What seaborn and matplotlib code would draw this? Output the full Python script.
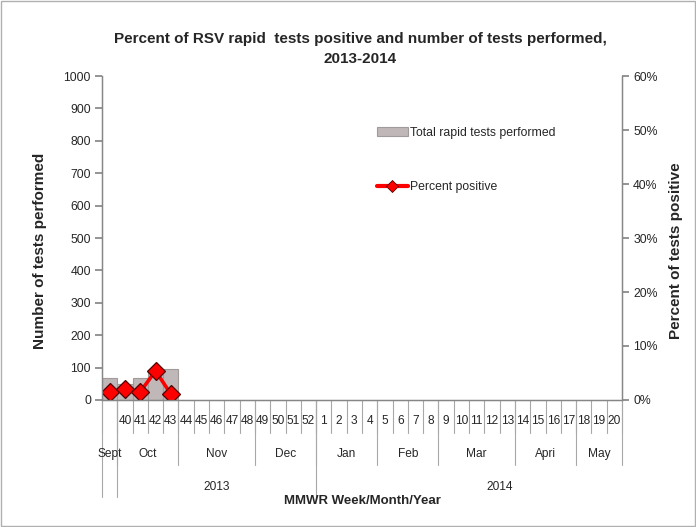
import matplotlib
matplotlib.use("Agg")
import matplotlib.pyplot as plt
import seaborn as sns
import pandas as pd
import numpy as np
from matplotlib.lines import Line2D
from matplotlib.patches import Patch, Rectangle

# ---- data ----
weeks = ['39', '40', '41', '42', '43', '44', '45', '46', '47', '48', '49', '50', '51', '52',
         '1', '2', '3', '4', '5', '6', '7', '8', '9', '10', '11', '12', '13',
         '14', '15', '16', '17', '18', '19', '20']
week_labels = [''] + weeks[1:]
tests_weeks = ['39', '40', '41', '42', '43']
tests_performed = [67, 48, 67, 93, 95]
pct_positive = [1.5, 2.0, 1.5, 5.4, 1.1]
months = ['Sept', 'Oct', 'Nov', 'Dec', 'Jan', 'Feb', 'Mar', 'Apri', 'May']
month_sizes = [1, 4, 5, 4, 4, 4, 5, 4, 3]
years = ['2013', '2014']
year_starts = [1, 14]
year_sizes = [13, 24]

sns.set_theme(style="white")
plt.rcParams['font.family'] = ['Liberation Sans', 'DejaVu Sans']

fig = plt.figure(figsize=(6.96, 5.27), dpi=100)
ax = fig.add_axes([102/696, 1-400/527, 520/696, 324/527])

df_bar = pd.DataFrame({'week': tests_weeks, 'tests': tests_performed})
sns.barplot(data=df_bar, x='week', y='tests', order=weeks, ax=ax,
            color='#C0B8B8', edgecolor='#A09A9A', linewidth=0.8, width=1.0,
            saturation=1)
ax.set_ylim(0, 1000)
ax.set_xlim(-0.5, len(weeks) - 0.5)
ax.set_yticks(np.arange(0, 1001, 100))
ax.set_ylabel('Number of tests performed', fontsize=11, fontweight='bold')
ax.yaxis.set_label_coords(-0.106, 0.46)
ax.set_xlabel('')
ax.set_xticks([])

ax2 = ax.twinx()
df_line = pd.DataFrame({'week': tests_weeks, 'pct': pct_positive})
sns.pointplot(data=df_line, x='week', y='pct', order=weeks, ax=ax2,
              color='#FF0000', markers='D', errorbar=None,
              markersize=9, markeredgecolor='#500000', markeredgewidth=0.9,
              linewidth=2.6)
ax2.set_ylim(0, 60)
ax2.set_xlim(-0.5, len(weeks) - 0.5)
ax2.set_yticks(np.arange(0, 61, 10))
ax2.set_yticklabels([f'{v}%' for v in range(0, 61, 10)])
ax2.set_ylabel('Percent of tests positive', fontsize=11, fontweight='bold')
ax2.yaxis.set_label_coords(1.090, 0.46)
ax2.set_xlabel('')
ax2.set_xticks([])

spine_c = '#868686'
for a in (ax, ax2):
    a.spines['top'].set_visible(False)
    for s in ('left', 'right', 'bottom'):
        a.spines[s].set_color(spine_c)
        a.spines[s].set_linewidth(0.9)
ax.tick_params(axis='y', direction='out', length=5, color=spine_c, labelsize=8.8, pad=3, left=True)
ax2.tick_params(axis='y', direction='out', length=5, color=spine_c, labelsize=8.8, pad=3, right=True)

# multi-level category axis
tr = ax.get_xaxis_transform()
y_week, y_month, y_year = -0.102, -0.2, -0.3
lk = dict(color='#A8A8A8', lw=0.8, clip_on=False, transform=tr)
for i in range(len(weeks) + 1):
    ax.plot([i - 0.5, i - 0.5], [0, y_week], **lk)
pos = 0
for n in month_sizes:
    pos += n
    ax.plot([pos - 0.5, pos - 0.5], [0, y_month], **lk)
for x in [-0.5, 0.5, 13.5]:
    ax.plot([x, x], [0, y_year], **lk)

for i, lab in enumerate(week_labels):
    ax.text(i, -0.065, lab, transform=tr, ha='center', va='center', fontsize=8.6)
pos = 0
for m, n in zip(months, month_sizes):
    ax.text(pos + n / 2 - 0.5, -0.167, m, transform=tr, ha='center', va='center', fontsize=8.6)
    pos += n
for y, s, n in zip(years, year_starts, year_sizes):
    ax.text(s + n / 2 - 0.5, -0.269, y, transform=tr, ha='center', va='center', fontsize=8.6)

fig.text(362/696, 1-501/527, 'MMWR Week/Month/Year', ha='center', va='center',
         fontsize=9.5, fontweight='bold')

fig.text(360/696, 1-49/527,
         'Percent of RSV rapid  tests positive and number of tests performed,\n2013-2014',
         ha='center', va='center', fontsize=11, fontweight='bold', linespacing=1.6)

handles = [Patch(facecolor='#C0B8B8', edgecolor='#A09A9A', linewidth=0.8),
           Line2D([], [], color='#FF0000', lw=3, marker='D', markersize=6,
                  markeredgecolor='#500000', markeredgewidth=0.6)]
fig.legend(handles, ['Total rapid tests performed', 'Percent positive'],
           loc='upper left', bbox_to_anchor=(366/696, 1-116/527), frameon=False,
           fontsize=8.85, labelspacing=3.4, handlelength=2.5, handletextpad=0.2)

fig.add_artist(Rectangle((0.002, 0.002), 0.996, 0.996, transform=fig.transFigure,
                         fill=False, edgecolor='#B0B0B0', lw=1))

fig.savefig('out.png', dpi=100)
